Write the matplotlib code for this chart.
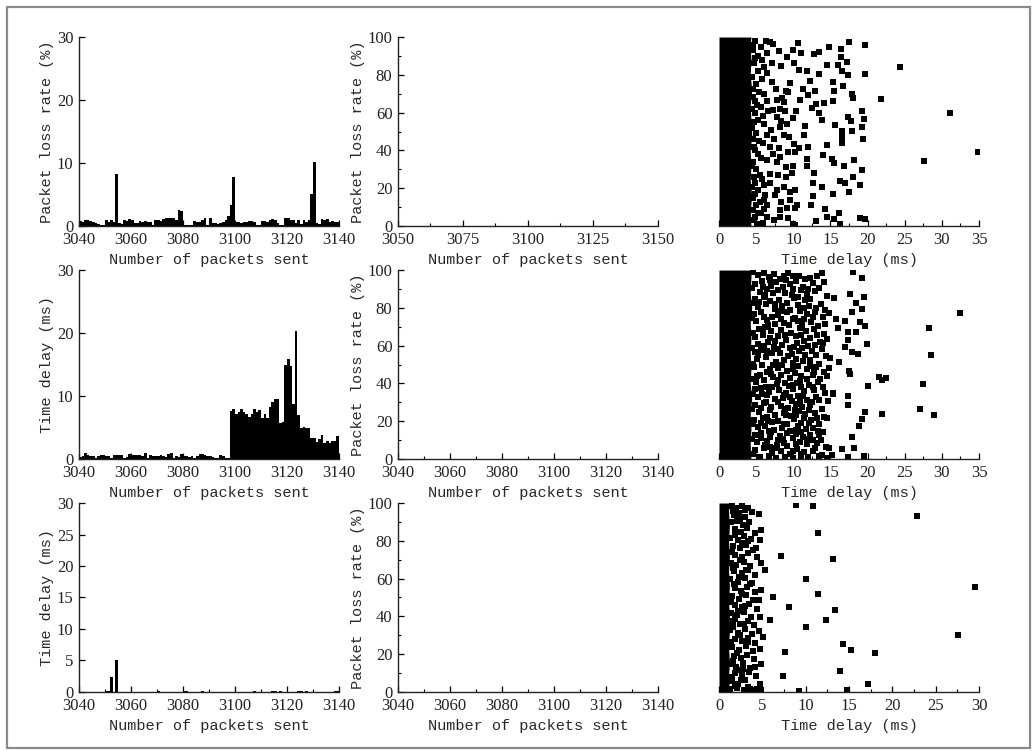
import numpy as np
import matplotlib
matplotlib.use("Agg")
import matplotlib.pyplot as plt
from matplotlib.patches import Rectangle
from matplotlib.ticker import MultipleLocator

# ---- data ----
packets = np.arange(3040, 3140)

loss_rate = [0.8, 0.6, 0.9, 1.0, 0.8, 0.7, 0.5, 0.3, 0.2, 0.1,
             1.0, 0.6, 1.0, 0.7, 8.3, 0.4, 0.3, 0.9, 0.8, 1.1,
             0.9, 0.5, 0.4, 0.8, 0.7, 0.8, 0.6, 0.7, 0.2, 0.9,
             0.9, 0.8, 1.1, 1.2, 1.2, 1.2, 1.2, 1.0, 2.6, 2.3,
             0.2, 0.1, 0.1, 0.1, 0.8, 0.6, 0.6, 0.9, 1.2, 0.1,
             1.2, 0.5, 0.4, 0.3, 0.5, 0.7, 1.0, 1.6, 3.3, 7.8,
             0.6, 0.7, 0.4, 0.6, 0.7, 0.8, 0.8, 0.7, 0.1, 0.1,
             0.8, 0.8, 0.6, 1.0, 1.1, 1.0, 0.4, 0.2, 0.1, 1.2,
             1.3, 1.0, 1.0, 0.5, 0.9, 0.3, 0.9, 0.6, 1.0, 5.0,
             10.2, 0.4, 0.3, 1.1, 0.9, 1.1, 0.6, 0.8, 0.7, 0.6]

delay_mid = [0.3, 0.5, 1.0, 0.7, 0.5, 0.4, 0.2, 0.5, 0.6, 0.6,
             0.5, 0.4, 0.2, 0.7, 0.7, 0.7, 0.6, 0.2, 0.3, 0.8,
             0.7, 0.7, 0.7, 0.7, 0.5, 0.9, 0.1, 0.6, 0.5, 0.4,
             0.5, 0.6, 0.5, 0.3, 0.8, 0.9, 0.1, 0.4, 0.3, 0.8,
             0.5, 0.5, 0.3, 0.5, 0.1, 0.4, 0.8, 0.8, 0.6, 0.5,
             0.4, 0.3, 0.2, 0.1, 0.7, 0.4, 0.1, 0.2,
             7.7, 8.0, 7.2, 7.5, 7.9, 7.4, 7.1, 6.7, 7.2, 7.9,
             7.5, 7.8, 6.5, 7.2, 6.5, 8.3, 9.1, 9.6, 9.6, 5.7,
             5.9, 14.9, 15.8, 14.7, 8.8, 20.4, 7.0, 4.9, 5.1, 4.9,
             5.0, 3.3, 3.3, 2.7, 3.1, 3.8, 2.5, 2.9, 2.5, 2.8,
             2.8, 3.7]

delay_low = [0.0] * 100
for p, v in [(3050, 0.1), (3051, 0.1), (3052, 2.4), (3054, 5.0), (3070, 0.1),
             (3080, 0.1), (3081, 0.1), (3087, 0.1), (3107, 0.1), (3114, 0.1),
             (3115, 0.1), (3117, 0.1), (3124, 0.1), (3125, 0.1), (3127, 0.1),
             (3138, 0.1), (3139, 0.1)]:
    delay_low[p - 3040] = v

# dense left-hand band of each scatter: right edge (ms) against loss rate (%)
band_y = [0, 8, 16, 24, 32, 40, 48, 56, 64, 72, 80, 88, 96, 100]
band_top = [4.3, 4.2, 4.4, 4.2, 4.3, 4.2, 4.4, 4.3, 4.2, 4.4, 4.2, 4.3, 4.2, 4.3]
band_mid = [4.3, 4.2, 4.3, 4.2, 4.4, 4.2, 4.3, 4.2, 4.3, 4.2, 4.4, 4.2, 4.3, 4.3]
band_low = [1.2, 1.1, 1.2, 1.1, 1.2, 1.2, 1.1, 1.2, 1.1, 1.2, 1.1, 1.2, 1.1, 1.2]

top_pts = [(6.3, 97.9), (6.8, 97.5), (7.3, 96.5), (10.7, 96.8), (14.8, 94.7), (16.4, 93.7),
           (17.5, 97.2), (19.6, 95.8), (6.5, 91.4), (8.1, 92.6), (9.9, 93.0), (9.1, 89.5),
           (11.0, 91.6), (12.8, 91.2), (13.4, 92.1), (16.4, 89.6), (17.2, 87.0), (14.6, 85.3),
           (16.0, 85.1), (8.3, 84.6), (10.1, 86.0), (10.8, 82.5), (11.8, 81.8), (13.5, 80.4),
           (16.5, 82.1), (17.4, 80.0), (19.7, 80.2), (24.3, 84.0), (6.4, 81.2), (7.1, 76.0),
           (9.6, 75.6), (12.3, 76.8), (15.4, 76.3), (16.7, 74.2), (7.7, 72.5), (9.0, 71.6),
           (9.3, 70.7), (12.0, 69.5), (12.9, 71.6), (15.5, 71.2), (17.9, 69.8), (18.1, 67.7),
           (21.8, 67.4), (6.4, 66.3), (7.8, 66.7), (8.5, 67.7), (8.7, 65.4), (10.9, 66.8),
           (13.1, 64.6), (14.1, 64.9), (15.4, 66.0), (6.6, 61.1), (7.3, 61.4), (8.2, 61.9),
           (8.9, 61.1), (10.4, 60.7), (12.5, 62.3), (13.5, 59.6), (19.3, 60.7), (31.1, 59.6),
           (7.8, 57.5), (8.4, 55.8), (9.9, 57.0), (17.4, 57.9), (17.8, 55.8), (19.5, 56.5),
           (15.6, 53.5), (11.6, 52.8), (8.2, 52.3), (9.2, 54.0), (16.5, 50.5), (17.9, 50.5),
           (19.3, 52.3), (6.4, 47.9), (7.4, 46.1), (8.7, 47.9), (9.4, 47.0), (11.4, 48.4),
           (16.6, 47.2), (19.4, 46.1), (16.5, 43.9), (6.9, 41.8), (8.1, 41.2), (10.1, 43.2),
           (10.8, 41.4), (12.0, 41.8), (14.6, 42.6), (7.3, 38.2), (8.2, 36.5), (9.3, 39.1),
           (10.2, 39.1), (14.0, 37.4), (15.2, 35.6), (15.5, 33.3), (18.2, 34.9), (27.6, 34.6),
           (34.9, 38.9), (6.5, 34.7), (7.8, 33.9), (9.0, 31.2), (9.9, 31.6), (11.9, 35.6),
           (11.9, 31.6), (16.8, 31.8), (19.3, 29.6), (6.8, 27.7), (8.0, 26.8), (9.0, 26.0),
           (9.8, 28.1), (12.8, 28.1), (18.1, 26.1), (16.3, 23.9), (17.0, 23.0), (6.9, 22.5),
           (6.1, 21.6), (7.8, 19.3), (8.7, 20.7), (9.5, 18.1), (10.2, 18.9), (12.6, 22.5),
           (13.8, 20.4), (15.4, 16.8), (17.5, 18.1), (19.0, 21.6), (6.2, 16.3), (7.5, 16.3),
           (8.4, 12.8), (9.6, 13.7), (10.5, 11.1), (12.7, 15.8), (12.4, 11.1), (5.5, 12.8),
           (6.5, 11.1), (8.2, 8.4), (9.1, 9.3), (10.2, 9.3), (14.3, 8.8), (16.1, 6.7),
           (14.5, 4.9), (5.7, 6.7), (6.5, 4.6), (7.4, 3.2), (8.2, 4.9), (9.3, 4.0),
           (10.0, 1.1), (13.1, 2.8), (19.0, 4.2), (19.7, 3.5), (15.5, 3.5), (10.2, 0.5),
           (16.3, 1.1), (4.9, 98.0), (4.6, 93.0), (5.2, 90.0), (4.7, 86.0), (5.3, 82.0),
           (4.5, 79.0), (5.0, 75.0), (5.4, 71.0), (4.6, 68.0), (5.1, 64.0), (4.8, 60.0),
           (5.3, 56.0), (4.5, 52.0), (5.0, 49.0), (5.4, 45.0), (4.7, 42.0), (5.2, 38.0),
           (4.6, 34.0), (5.0, 30.0), (5.5, 27.0), (4.8, 23.0), (5.2, 19.0), (4.6, 15.0),
           (5.0, 11.0), (5.3, 7.0), (4.7, 3.0), (5.1, 1.0), (5.8, 88.0), (5.9, 58.0),
           (5.6, 36.0), (6.0, 9.0), (7.0, 51.0), (7.2, 86.5), (11.3, 72.5), (13.9, 56.0),
           (4.6, 96.0), (4.8, 89.0), (4.6, 72.5), (4.9, 66.0), (4.5, 62.0), (4.7, 55.0),
           (4.6, 46.0), (4.9, 40.0), (4.5, 31.5), (4.7, 26.0), (4.5, 20.5), (4.8, 17.0),
           (4.6, 8.5), (4.8, 5.0), (5.6, 94.5), (6.0, 84.0), (5.8, 78.0), (6.1, 70.0),
           (5.7, 63.0), (6.0, 54.0), (5.9, 44.0), (5.8, 25.0), (6.1, 14.0), (5.9, 1.5)]

mid_pts = [(18.1, 98.8), (19.3, 95.6), (15.5, 85.4), (17.6, 87.1), (19.5, 85.7), (18.4, 82.4),
           (17.9, 78.0), (19.3, 79.4), (32.5, 77.4), (16.9, 73.0), (19.0, 72.7), (19.7, 70.4),
           (16.0, 69.5), (17.4, 67.0), (18.4, 67.4), (28.3, 69.1), (17.3, 63.0), (19.9, 60.8),
           (16.9, 59.1), (17.9, 56.4), (18.7, 55.4), (28.5, 55.2), (16.1, 51.1), (17.5, 46.6),
           (17.7, 45.1), (21.6, 43.4), (21.9, 41.8), (22.5, 43.0), (20.0, 38.8), (27.4, 39.7),
           (15.4, 35.1), (17.3, 33.3), (17.3, 28.6), (27.0, 26.3), (22.0, 24.0), (19.7, 25.0),
           (28.9, 23.1), (19.2, 21.2), (18.8, 17.6), (17.9, 11.5), (16.5, 5.1), (18.2, 5.6),
           (19.5, 1.6), (17.3, 1.2), (15.2, 2.1),
           (5.3, 97.4), (6.1, 98.6), (6.7, 96.1), (7.4, 97.8), (8.2, 95.3), (9.3, 98.2),
           (9.9, 96.6), (10.8, 97.1), (12.2, 95.9), (13.9, 98.4), (4.9, 92.7), (5.8, 94.1),
           (7.0, 91.8), (7.7, 93.5), (8.6, 90.9), (9.5, 92.4), (10.4, 94.0), (11.3, 91.2),
           (12.6, 92.9), (13.4, 90.3), (5.5, 88.6), (6.4, 89.9), (7.3, 87.7), (8.9, 88.1),
           (9.8, 86.9), (11.0, 89.4), (11.9, 87.3), (12.9, 88.8), (14.5, 86.2), (4.8, 84.9),
           (6.0, 85.7), (6.9, 83.6), (8.1, 84.4), (9.2, 82.8), (10.1, 85.1), (11.6, 83.9),
           (12.3, 84.7), (13.7, 82.2), (5.2, 80.6), (6.3, 81.9), (7.6, 79.3), (8.5, 80.9),
           (9.6, 78.6), (10.7, 81.3), (11.4, 79.8), (13.0, 80.1), (14.3, 78.9), (4.7, 76.8),
           (5.6, 77.7), (7.1, 75.4), (8.0, 76.2), (9.1, 77.9), (10.2, 74.8), (11.8, 76.5),
           (12.7, 75.1), (14.8, 77.3), (5.0, 72.9), (6.5, 73.6), (7.5, 71.7), (8.7, 72.2),
           (9.4, 70.8), (10.6, 73.3), (11.2, 71.1), (12.4, 72.6), (13.3, 70.2), (15.7, 73.9),
           (5.4, 68.7), (6.2, 69.8), (7.0, 67.5), (8.3, 68.3), (9.7, 66.9), (10.9, 69.1),
           (11.7, 67.8), (12.8, 68.6), (14.1, 66.4), (4.8, 64.6), (5.9, 65.8), (6.8, 63.9),
           (7.9, 65.2), (9.0, 63.1), (10.3, 64.9), (11.5, 62.7), (13.2, 65.4), (14.6, 63.6),
           (5.3, 60.9), (6.6, 61.7), (7.4, 59.4), (8.5, 60.3), (9.5, 58.8), (10.5, 61.2),
           (12.0, 59.9), (12.9, 60.6), (13.8, 58.3), (4.9, 56.7), (5.7, 57.8), (7.2, 55.9),
           (8.2, 56.2), (9.3, 54.6), (10.8, 57.3), (11.6, 55.2), (12.5, 56.9), (14.4, 54.3),
           (5.1, 52.8), (6.3, 53.9), (7.7, 51.6), (8.8, 52.4), (9.9, 50.7), (10.4, 53.1),
           (11.3, 51.9), (12.2, 52.6), (13.5, 50.4), (14.9, 53.4), (4.7, 48.9), (5.8, 49.6),
           (6.9, 47.4), (8.0, 48.3), (9.2, 46.8), (10.6, 49.2), (11.9, 47.7), (13.1, 48.8),
           (14.2, 46.3), (5.5, 44.7), (6.4, 45.9), (7.3, 43.6), (8.4, 44.2), (9.6, 42.9),
           (10.2, 45.3), (11.1, 43.9), (12.6, 44.6), (13.6, 42.4), (5.0, 40.8), (6.1, 41.6),
           (7.8, 39.7), (8.9, 40.3), (9.4, 38.6), (10.9, 41.2), (12.1, 39.3), (13.3, 40.6),
           (14.0, 38.2), (4.8, 36.9), (5.6, 37.5), (6.7, 35.4), (8.1, 36.3), (9.0, 34.7),
           (10.0, 37.2), (11.4, 35.8), (12.8, 36.6), (15.3, 34.4), (5.2, 32.7), (6.5, 33.8),
           (7.5, 31.6), (8.6, 32.3), (9.8, 30.9), (10.7, 33.2), (11.8, 31.4), (13.0, 32.9),
           (14.7, 30.5), (4.9, 28.8), (6.0, 29.6), (7.0, 27.3), (8.3, 28.2), (9.3, 26.8),
           (10.4, 29.1), (11.2, 27.7), (12.3, 28.6), (13.8, 26.4), (5.4, 24.9), (6.8, 25.7),
           (7.6, 23.5), (8.7, 24.3), (9.7, 22.8), (10.8, 25.2), (11.6, 23.9), (12.9, 24.6),
           (14.2, 22.3), (4.7, 20.8), (5.9, 21.5), (7.2, 19.6), (8.0, 20.2), (9.1, 18.7),
           (10.1, 21.2), (11.0, 19.3), (12.4, 20.7), (13.4, 18.4), (14.6, 21.8), (5.3, 16.9),
           (6.2, 17.6), (7.4, 15.3), (8.5, 16.4), (9.5, 14.8), (10.6, 17.3), (11.7, 15.7),
           (12.7, 16.6), (14.0, 14.2), (4.8, 12.8), (5.7, 13.6), (6.9, 11.4), (8.2, 12.3),
           (9.9, 10.9), (10.3, 13.2), (11.3, 11.8), (12.2, 12.6), (13.7, 10.3), (5.1, 8.9),
           (6.4, 9.6), (7.8, 7.5), (8.8, 8.3), (9.2, 6.8), (10.9, 9.2), (11.9, 7.7),
           (13.2, 8.6), (14.4, 6.3), (4.9, 4.8), (6.1, 5.6), (7.1, 3.4), (8.4, 4.2),
           (9.6, 2.8), (10.5, 5.1), (11.5, 3.7), (12.6, 4.5), (13.9, 2.3), (14.8, 5.9),
           (5.5, 0.9), (6.7, 1.6), (7.7, 0.7), (8.9, 1.3), (10.0, 0.6), (11.1, 1.8),
           (12.0, 0.8), (13.5, 1.4), (14.5, 0.5), (15.2, 1.9),
           (4.6, 99.0), (4.5, 90.5), (4.6, 82.5), (4.5, 74.5), (4.6, 66.5), (4.5, 58.5),
           (4.6, 50.5), (4.5, 42.5), (4.6, 34.5), (4.5, 26.5), (4.6, 18.5), (4.5, 10.5),
           (4.6, 2.5), (6.9, 94.6), (8.8, 97.0), (6.2, 86.8), (8.4, 78.2), (6.6, 70.7),
           (7.6, 62.6), (6.5, 57.1), (8.5, 49.8), (7.0, 45.1), (6.3, 38.3), (8.7, 34.1),
           (6.3, 30.2), (9.0, 23.4), (6.6, 19.9), (7.0, 14.1), (8.0, 10.2), (6.9, 6.6),
           (10.0, 90.2), (11.6, 95.4), (10.6, 86.0), (12.1, 81.2), (9.9, 74.0), (11.1, 65.6),
           (10.1, 59.1), (12.2, 49.0), (10.5, 40.1), (11.1, 37.9), (12.5, 30.3), (10.2, 26.1),
           (11.4, 21.9), (10.4, 15.6), (11.8, 10.4), (12.9, 6.0), (13.2, 96.8), (14.0, 75.3),
           (13.6, 62.0), (14.8, 48.0), (14.3, 35.0), (13.3, 14.9),
           (5.9, 91.0), (7.9, 89.2), (9.0, 94.9), (12.0, 89.9), (14.1, 93.6), (5.4, 83.2),
           (7.5, 82.0), (10.9, 78.1), (12.9, 77.6), (6.0, 75.0), (8.4, 73.9), (11.5, 74.2),
           (14.3, 71.4), (5.9, 68.0), (8.9, 65.8), (12.3, 64.1), (6.1, 59.7), (8.0, 58.0),
           (11.2, 59.0), (14.0, 61.5), (5.3, 55.1), (9.8, 55.6), (13.1, 54.9), (7.3, 49.9),
           (10.0, 47.9), (12.8, 46.0), (5.1, 44.0), (8.0, 42.0), (11.8, 42.1), (14.5, 44.0),
           (7.1, 38.0), (9.9, 39.1), (12.6, 38.0), (5.8, 34.2), (9.6, 33.0), (11.3, 33.6),
           (7.9, 30.0), (10.9, 30.1), (13.5, 31.0), (5.7, 27.0), (8.9, 26.6), (12.1, 25.9),
           (6.4, 22.3), (10.3, 23.1), (13.2, 21.6), (5.6, 19.0), (8.8, 18.3), (12.1, 18.8),
           (6.7, 14.9), (9.1, 13.8), (11.0, 14.1), (13.4, 12.9), (5.7, 11.0), (8.6, 10.6),
           (10.4, 8.0), (12.6, 9.9), (6.2, 7.2), (9.9, 4.1), (7.6, 5.9), (11.0, 2.9)]

low_pts = [(8.9, 98.8), (10.9, 98.4), (22.9, 93.1), (11.4, 84.1), (7.2, 72.0), (13.1, 70.4),
           (10.0, 60.0), (29.5, 55.4), (6.2, 50.3), (11.4, 51.7), (8.1, 45.0), (13.4, 43.2),
           (5.9, 37.9), (12.4, 38.3), (10.0, 34.6), (27.6, 30.3), (14.3, 25.6), (7.6, 21.0),
           (15.2, 22.4), (18.0, 20.8), (14.0, 11.3), (7.4, 8.5), (17.2, 4.1), (9.2, 0.4),
           (14.8, 0.9), (4.6, 94.4), (4.9, 85.5), (4.7, 80.2), (4.3, 76.4), (5.3, 64.7),
           (4.9, 53.8), (4.6, 48.9), (4.7, 39.7), (5.1, 29.1), (4.7, 22.9), (4.9, 15.0),
           (4.2, 13.2), (4.7, 4.1), (3.6, 1.5), (4.0, 1.2), (4.4, 1.8), (4.8, 1.0),
           (1.5, 98.2), (2.0, 97.1), (2.6, 98.5), (3.4, 97.6), (1.7, 93.4), (2.3, 94.8),
           (3.0, 92.6), (3.8, 95.3), (1.4, 89.7), (2.1, 90.6), (2.8, 88.3), (3.5, 89.9),
           (1.9, 86.2), (2.5, 84.8), (3.2, 86.7), (4.1, 83.9), (1.3, 81.5), (2.2, 80.4),
           (2.9, 82.3), (3.7, 80.9), (1.6, 77.2), (2.4, 76.0), (3.1, 77.8), (3.9, 74.9),
           (1.8, 72.6), (2.7, 71.5), (3.3, 73.4), (4.4, 71.2), (1.4, 68.4), (2.0, 67.1),
           (2.9, 68.9), (3.6, 66.5), (4.8, 68.2), (1.7, 63.8), (2.6, 62.7), (3.4, 64.3),
           (4.1, 61.9), (1.3, 59.6), (2.2, 58.4), (3.0, 60.2), (3.8, 57.7), (1.9, 55.1),
           (2.5, 53.6), (3.2, 55.7), (4.2, 52.9), (1.5, 50.8), (2.3, 49.4), (3.1, 51.3),
           (3.9, 48.6), (1.8, 46.2), (2.7, 44.9), (3.5, 46.8), (4.4, 44.1), (1.4, 41.7),
           (2.1, 40.5), (2.9, 42.3), (3.7, 39.8), (1.6, 37.3), (2.4, 35.9), (3.3, 37.8),
           (4.0, 35.2), (1.3, 32.8), (2.2, 31.4), (3.0, 33.3), (3.8, 30.7), (4.6, 32.1),
           (1.9, 28.2), (2.6, 26.8), (3.4, 28.7), (4.2, 26.1), (1.5, 23.7), (2.3, 22.4),
           (3.1, 24.2), (3.9, 21.6), (1.7, 19.1), (2.5, 17.9), (3.2, 19.6), (4.0, 17.3),
           (1.4, 14.6), (2.0, 13.4), (2.8, 15.2), (3.6, 12.8), (1.8, 10.1), (2.7, 8.9),
           (3.5, 10.6), (4.3, 8.2), (1.5, 5.6), (2.2, 4.4), (3.0, 6.1), (1.3, 1.7),
           (2.1, 2.3), (2.9, 0.9), (3.3, 2.8),
           (1.6, 95.6), (2.4, 91.8), (1.8, 83.0), (2.7, 78.6), (1.5, 74.3), (2.4, 69.8),
           (1.6, 65.4), (2.3, 61.0), (1.7, 57.0), (2.6, 51.9), (1.4, 47.6), (2.2, 43.1),
           (1.9, 38.6), (2.9, 36.2), (1.6, 34.6), (2.4, 30.0), (1.4, 26.2), (2.1, 20.6),
           (1.6, 16.4), (2.4, 11.7), (1.5, 8.1), (2.5, 6.5), (1.8, 3.4), (3.1, 64.8),
           (3.0, 45.6), (3.3, 26.7), (2.8, 11.9), (3.4, 80.1), (3.0, 96.4), (3.6, 57.2)]

# ---- figure ----
plt.rcParams["font.family"] = ["Liberation Serif", "DejaVu Serif"]
fig = plt.figure(figsize=(10.35, 7.51), dpi=100)

label_font = dict(family=["Liberation Mono", "DejaVu Sans Mono"], size=11, color="#2e2622")
tick_color = "#222222"

cols = [0.0763, 0.3845, 0.6947]
rows = [0.6991, 0.3888, 0.0786]
w, h = 0.2512, 0.2516


def style(ax, hide_left=False):
    ax.spines["top"].set_visible(False)
    ax.spines["right"].set_visible(False)
    for s in ("left", "bottom"):
        ax.spines[s].set_linewidth(1.0)
        ax.spines[s].set_color("#222222")
    if hide_left:
        ax.spines["left"].set_visible(False)
    ax.tick_params(which="major", direction="in", length=4, width=0.9,
                   labelsize=12, labelcolor=tick_color, pad=4)
    ax.tick_params(which="minor", direction="in", length=2.5, width=0.8)


# left column: bar series
bar_sets = [(loss_rate, "Packet loss rate (%)", 10),
            (delay_mid, "Time delay (ms)", 10),
            (delay_low, "Time delay (ms)", 5)]
for r, (vals, ylab, ystep) in enumerate(bar_sets):
    ax = fig.add_axes([cols[0], rows[r], w, h])
    ax.bar(packets, vals, width=1.0, align="edge", color="black", linewidth=0)
    ax.set_xlim(3040, 3140)
    ax.set_ylim(0, 30)
    ax.xaxis.set_major_locator(MultipleLocator(20))
    ax.xaxis.set_minor_locator(MultipleLocator(10))
    ax.yaxis.set_major_locator(MultipleLocator(ystep))
    style(ax)
    ax.set_xlabel("Number of packets sent", labelpad=4, **label_font)
    ax.set_ylabel(ylab, labelpad=2, **label_font)

# middle column: empty loss-rate axes
mid_ranges = [(3050, 3150, 25), (3040, 3140, 20), (3040, 3140, 20)]
for r, (x0, x1, step) in enumerate(mid_ranges):
    ax = fig.add_axes([cols[1], rows[r], w, h])
    ax.set_xlim(x0, x1)
    ax.set_ylim(0, 100)
    ax.xaxis.set_major_locator(MultipleLocator(step))
    ax.xaxis.set_minor_locator(MultipleLocator(step / 2))
    ax.yaxis.set_major_locator(MultipleLocator(20))
    ax.yaxis.set_minor_locator(MultipleLocator(10))
    style(ax)
    ax.set_xlabel("Number of packets sent", labelpad=4, **label_font)
    ax.set_ylabel("Packet loss rate (%)", labelpad=2, **label_font)

# right column: scatter of loss rate vs delay
scatter_sets = [(band_top, top_pts, 35), (band_mid, mid_pts, 35), (band_low, low_pts, 30)]
for r, (band, pts, xmax) in enumerate(scatter_sets):
    ax = fig.add_axes([cols[2], rows[r], w, h])
    ax.fill_betweenx(band_y, 0, band, color="black", linewidth=0)
    px, py = np.array(pts).T
    ax.plot(px, py, "s", color="black", markersize=3.9, markeredgewidth=0)
    ax.set_xlim(0, xmax)
    ax.set_ylim(0, 100)
    ax.xaxis.set_major_locator(MultipleLocator(5))
    ax.xaxis.set_minor_locator(MultipleLocator(2.5))
    ax.set_yticks([])
    style(ax, hide_left=True)
    ax.set_xlabel("Time delay (ms)", labelpad=4, **label_font)

# outer frame
fig.patches.append(Rectangle((0.0068, 0.004), 0.9884, 0.9867, transform=fig.transFigure,
                             fill=False, edgecolor="#8a8a8a", linewidth=1.6))

fig.savefig("out.png", dpi=100)
